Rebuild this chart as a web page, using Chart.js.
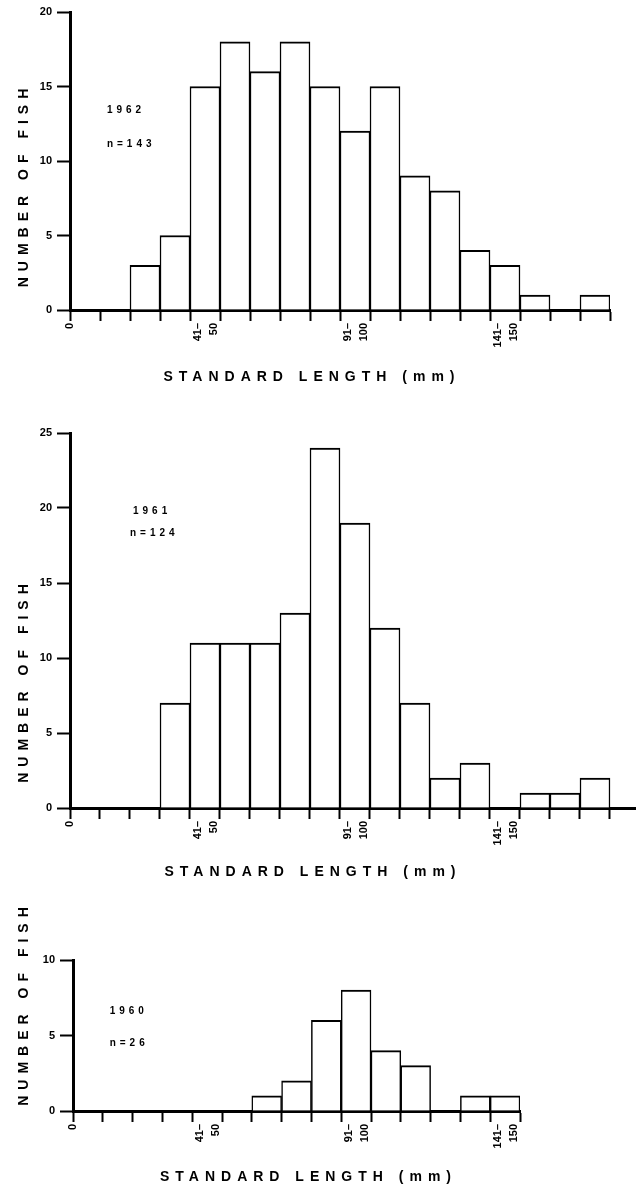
<!DOCTYPE html>
<html>
<head>
<meta charset="utf-8">
<script src="https://cdn.jsdelivr.net/npm/chart.js@4.4.1/dist/chart.umd.min.js"></script>
<style>
  body { margin: 0; background: #fff; width: 636px; height: 1187px; position: relative; overflow: hidden; }
  canvas { position: absolute; left: 0; }
</style>
</head>
<body>
<canvas id="c1962" width="636" height="390" style="top:0px"></canvas>
<canvas id="c1961" width="636" height="465" style="top:420px"></canvas>
<canvas id="c1960" width="636" height="292" style="top:895px"></canvas>
<script>
// bins are 10 mm wide, lower edge in mm
const binStarts = [0, 10, 20, 30, 40, 50, 60, 70, 80, 90, 100, 110, 120, 130, 140, 150, 160, 170];

// number of fish per bin
const fish1962 = [0, 0, 3, 5, 15, 18, 16, 18, 15, 12, 15, 9, 8, 4, 3, 1, 0, 1];
const fish1961 = [0, 0, 0, 7, 11, 11, 11, 13, 24, 19, 12, 7, 2, 3, 0, 1, 1, 2];
const fish1960 = [0, 0, 0, 0, 0, 0, 1, 2, 6, 8, 4, 3, 0, 1, 1];

// x tick labels (two-line labels sit inside the bin they name)
const labelAt = [0, 42.5, 92.5, 142.5];
const labelText = ["0", ["41\u2013", "50"], ["91\u2013", "100"], ["141\u2013", "150"]];

const yTitle = "NUMBER OF FISH";
const xTitle = "STANDARD LENGTH (mm)";

const FONT = '"Liberation Sans", Arial, sans-serif';

// letter spaced, shifted axis titles
const titleStyle = {
    id: "titleStyle",
    beforeDraw(chart, args, opts) {
        Object.values(chart.scales).forEach(scale => {
            if (scale._styled) return;
            scale._styled = true;
            const orig = scale.drawTitle.bind(scale);
            const shift = opts[scale.id] || [0, 0];
            scale.drawTitle = function () {
                const ctx = this.ctx;
                ctx.save();
                ctx.letterSpacing = opts.spacing;
                ctx.translate(shift[0], shift[1]);
                orig();
                ctx.restore();
            };
        });
    }
};

// year and n= text inside the plot
const notes = {
    id: "notes",
    afterDraw(chart, args, opts) {
        const { ctx, scales: { x, y } } = chart;
        ctx.save();
        ctx.font = "bold 10px " + FONT;
        ctx.letterSpacing = "4px";
        ctx.fillStyle = "#000";
        ctx.textBaseline = "middle";
        opts.items.forEach(n => {
            ctx.fillText(n.text, x.getPixelForValue(n.x), y.getPixelForValue(n.y));
        });
        ctx.restore();
    }
};

function histogram(id, fish, cfg) {
    const points = fish.map((v, i) => ({ x: binStarts[i] + 5, y: v }));
    const edges = [];
    for (let e = 0; e <= fish.length * 10; e += 10) edges.push(e);
    const tickVals = edges.concat(labelAt.filter(v => v % 10 !== 0)).sort((a, b) => a - b);

    new Chart(document.getElementById(id), {
        type: "bar",
        data: {
            datasets: [{
                data: points,
                backgroundColor: "#fff",
                borderColor: "#000",
                borderWidth: { top: 2, left: 1.5, right: 1.5, bottom: 0 },
                borderSkipped: "start",
                barThickness: "flex",
                barPercentage: 1,
                categoryPercentage: 1
            }]
        },
        options: {
            responsive: false,
            animation: false,
            events: [],
            layout: { padding: { top: cfg.padTop, right: cfg.padRight, left: 0, bottom: 0 } },
            plugins: {
                legend: { display: false },
                tooltip: { enabled: false },
                titleStyle: { spacing: "6px", x: cfg.xShift, y: cfg.yShift },
                notes: { items: cfg.notes }
            },
            scales: {
                x: {
                    type: "linear",
                    offset: false,
                    min: 0,
                    max: cfg.xMax,
                    afterBuildTicks: s => { s.ticks = tickVals.map(v => ({ value: v })); },
                    afterFit: s => { s.height = cfg.xAxisH; },
                    ticks: {
                        autoSkip: false,
                        minRotation: 90,
                        maxRotation: 90,
                        padding: 2,
                        color: "#000",
                        font: { family: FONT, size: 11, weight: "bold", lineHeight: 1.5 },
                        callback: v => {
                            const k = labelAt.indexOf(v);
                            return k >= 0 ? labelText[k] : "";
                        }
                    },
                    grid: {
                        offset: false,
                        drawOnChartArea: false,
                        tickLength: 11,
                        tickWidth: 2,
                        tickColor: c => (c.tick && c.tick.value % 10 === 0) ? "#000" : "rgba(0,0,0,0)"
                    },
                    border: { color: "#000", width: 3 },
                    title: {
                        display: true,
                        text: xTitle,
                        color: "#000",
                        font: { family: FONT, size: 14, weight: "bold" }
                    }
                },
                y: {
                    min: 0,
                    max: cfg.yMax,
                    afterFit: s => { s.width = cfg.yAxisW; },
                    ticks: {
                        stepSize: 5,
                        padding: 5,
                        color: "#000",
                        font: { family: FONT, size: 11, weight: "bold" }
                    },
                    grid: { drawOnChartArea: false, tickLength: 13, tickWidth: 2, tickColor: "#000" },
                    border: { color: "#000", width: 3 },
                    title: {
                        display: true,
                        text: yTitle,
                        color: "#000",
                        font: { family: FONT, size: 14, weight: "bold" }
                    }
                }
            }
        },
        plugins: [titleStyle, notes]
    });
}

histogram("c1962", fish1962, {
    yMax: 20, xMax: 180, padTop: 12, padRight: 26, yAxisW: 70, xAxisH: 80,
    xShift: [-28, 0], yShift: [12, 24],
    notes: [{ text: "1962", x: 12.3, y: 13.4 }, { text: "n=143", x: 12.3, y: 11.1 }]
});

histogram("c1961", fish1961, {
    yMax: 25, xMax: 188.67, padTop: 13, padRight: 0, yAxisW: 70, xAxisH: 77,
    xShift: [-40, 0], yShift: [12, 60],
    notes: [{ text: "1961", x: 21, y: 19.8 }, { text: "n=124", x: 20, y: 18.3 }]
});

histogram("c1960", fish1960, {
    yMax: 10, xMax: 150, padTop: 65, padRight: 116, yAxisW: 73, xAxisH: 76,
    xShift: [12, 3], yShift: [12, -32],
    notes: [{ text: "1960", x: 12.3, y: 6.6 }, { text: "n=26", x: 12.3, y: 4.5 }]
});
</script>
</body>
</html>
